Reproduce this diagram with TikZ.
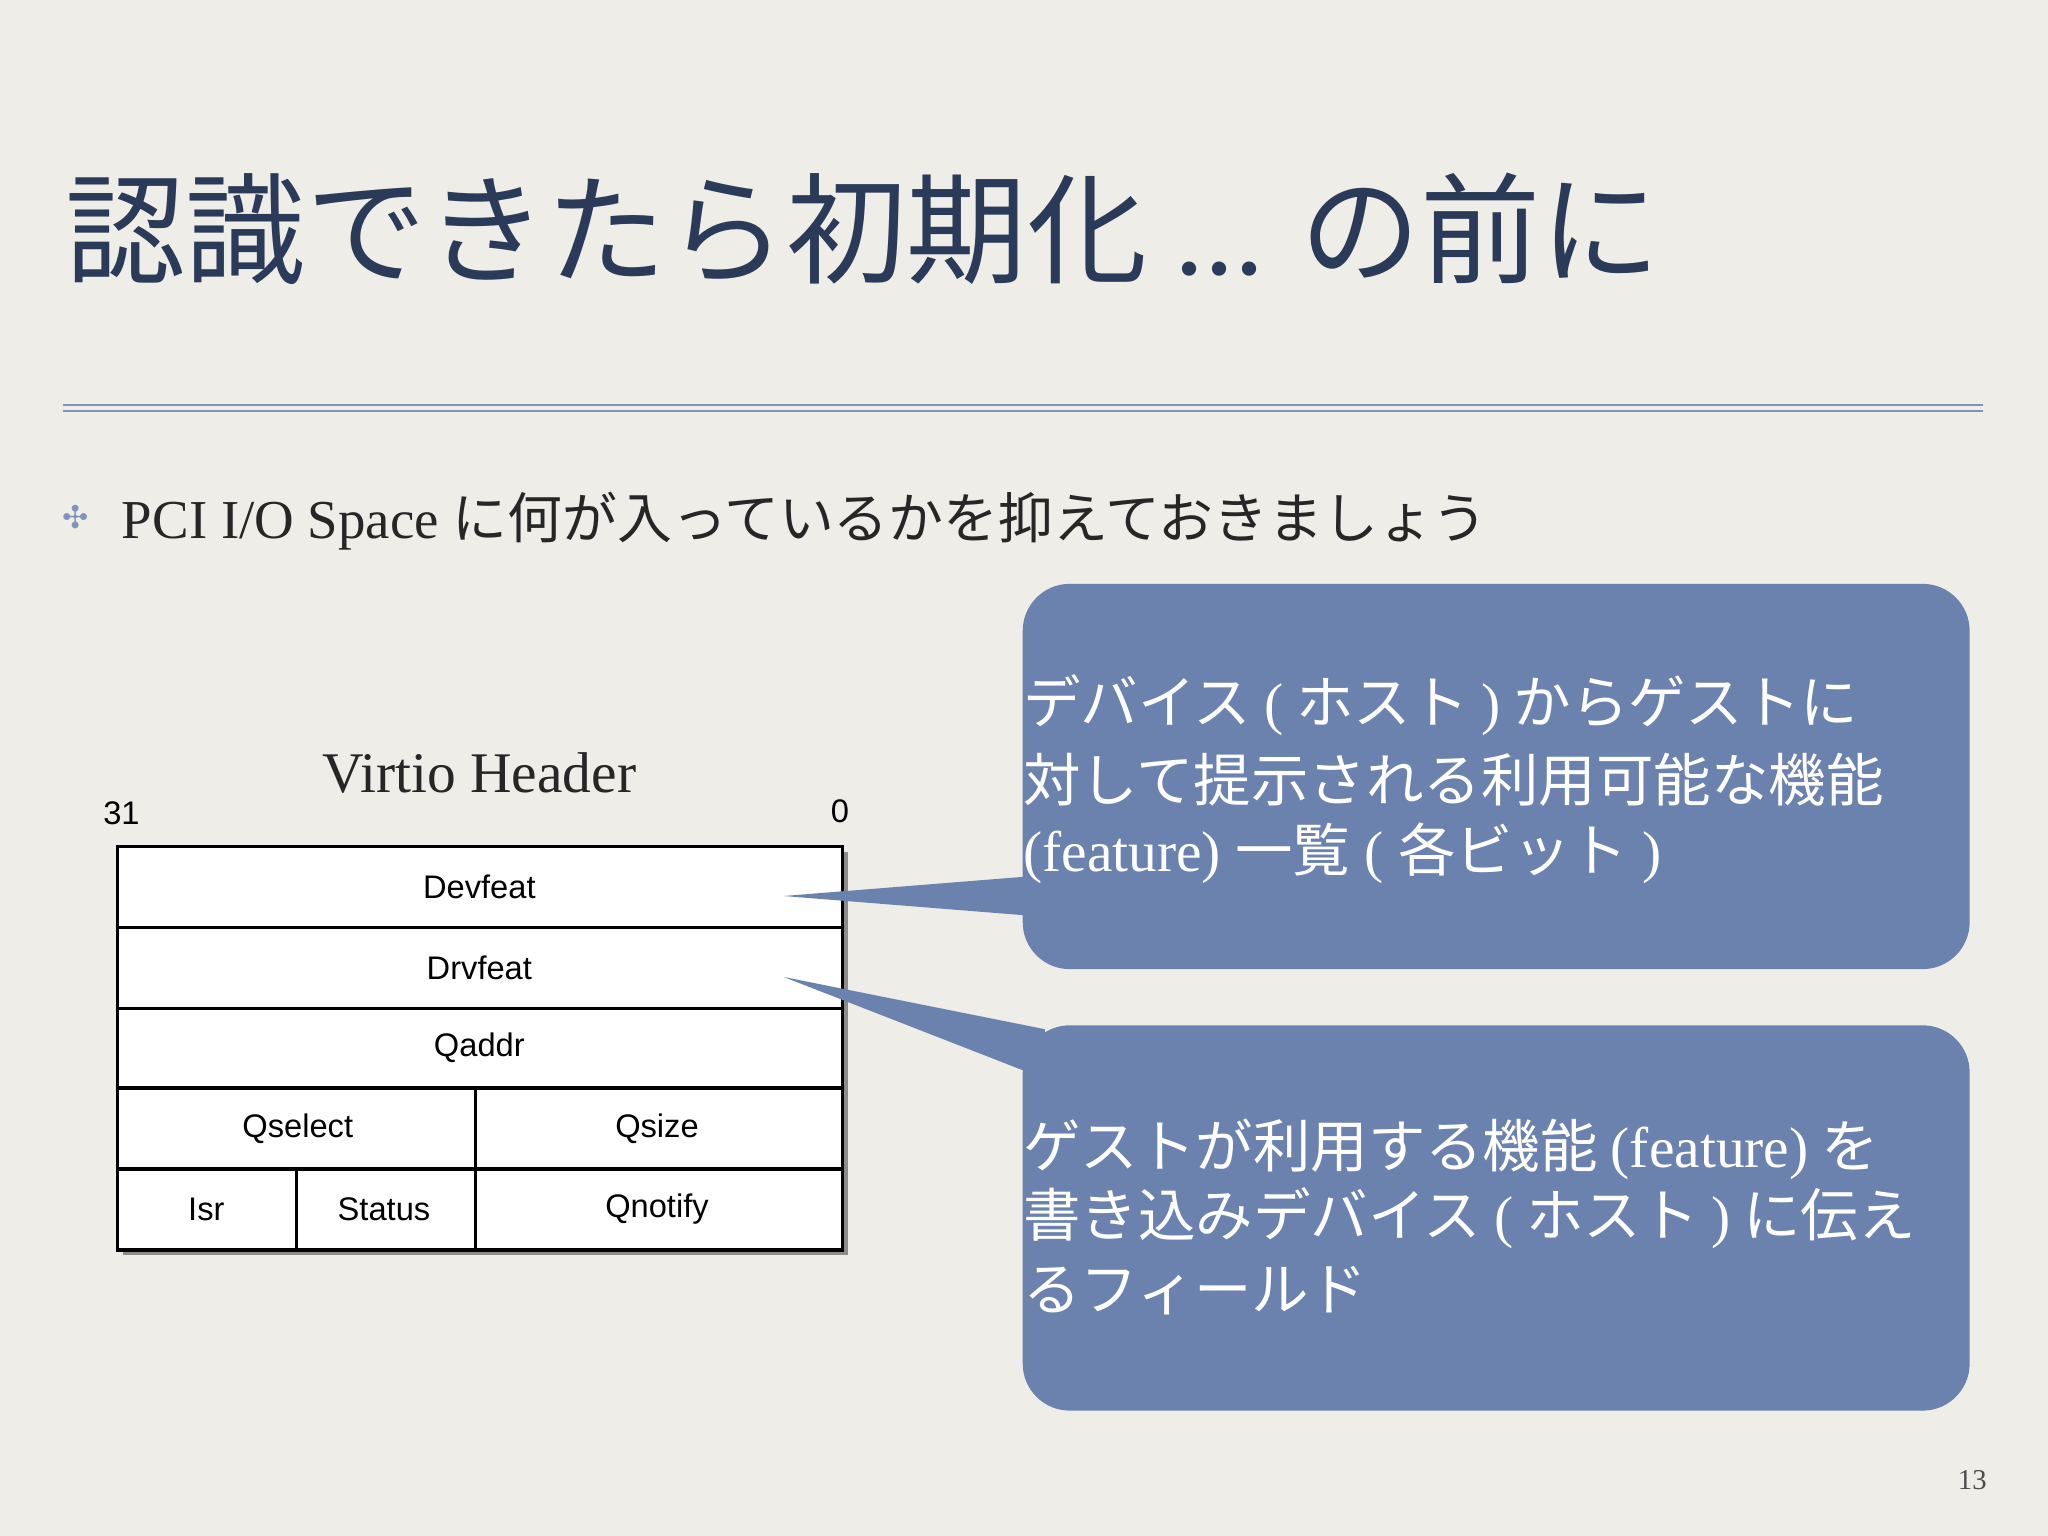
\documentclass[tikz,border=0pt]{standalone}
\usepackage{fontspec}
\setmainfont{Liberation Serif}
\newfontfamily\jp{Noto Sans CJK JP}
\newfontfamily\hv{Liberation Sans}
\newfontfamily\djv{DejaVu Sans}
\begin{document}
\begin{tikzpicture}[x=0.5pt,y=-0.5pt,
  cell/.style={font=\hv\fontsize{12.5}{14}\selectfont,text=black},
  callout/.style={fill=boxblue,draw=none,rounded corners=18pt},
  ctext/.style={anchor=west,text=white,font=\fontsize{22}{26}\selectfont,inner sep=0pt}]
\definecolor{bg}{HTML}{EFEDE8}
\definecolor{navy}{HTML}{2A3A58}
\definecolor{rule}{HTML}{8193BA}
\definecolor{boxblue}{HTML}{6A82AD}
\fill[bg] (0,0) rectangle (1568,1176);
\useasboundingbox (0,0) rectangle (1568,1176);
% title
\node[anchor=base west,inner sep=0pt,text=navy,font=\jp\fontsize{46}{50}\selectfont] (title) at (50,210) {認識できたら初期化 {\rmfamily ...} の前に};
\draw[rule,line width=0.8pt] (48,310) -- (1518,310);
\draw[rule,line width=0.8pt] (48,315) -- (1518,315);
% bullet
\node[text=rule,font=\djv\fontsize{12}{14}\selectfont,inner sep=0pt] (bul) at (58,396) {✣};
\node[anchor=base west,inner sep=0pt,text=black!85,font=\fontsize{21}{24}\selectfont] (btext) at (93,412) {PCI I/O Space {\jp に何が入っているかを抑えておきましょう}};
% header
\node[font=\fontsize{22}{26}\selectfont,text=black!85] (vh) at (367,592) {Virtio Header};
\node[cell] (b31) at (93,623) {31};
\node[cell] (b0) at (643,621) {0};
% table
\fill[black!45] (94,652) rectangle (649,961);
\draw[fill=white,line width=1.3pt] (90,648) rectangle (645,957);
\foreach \y in {710,772,833,895} \draw[line width=1.3pt] (90,\y) -- (645,\y);
\draw[line width=1.3pt] (364,833) -- (364,957);
\draw[line width=1.3pt] (227,895) -- (227,957);
\node[cell] (devfeat) at (367,679) {Devfeat};
\node[cell] (drvfeat) at (367,741) {Drvfeat};
\node[cell] (qaddr) at (367,802) {Qaddr};
\node[cell] (qsel) at (228,864) {Qselect};
\node[cell] (qsize) at (503,864) {Qsize};
\node[cell] (isr) at (158,926) {Isr};
\node[cell] (status) at (294,926) {Status};
\node[cell] (qnot) at (503,926) {Qnotify};
% callouts
\coordinate (p1) at (600,686);
\coordinate (p2) at (600,748);
\fill[boxblue] (p1) -- (800,670) -- (800,702) -- cycle;
\fill[boxblue] (p2) -- (800,788) -- (800,826) -- cycle;
\fill[callout] (783,447) rectangle (1508,742);
\fill[callout] (783,785) rectangle (1508,1080);
\node[ctext] (c1a) at (783,540) {\jp デバイス {\rmfamily (} ホスト {\rmfamily )} からゲストに};
\node[ctext] (c1b) at (783,597) {\jp 対して提示される利用可能な機能};
\node[ctext] (c1c) at (783,653) {(feature) {\jp 一覧} ( {\jp 各ビット} )};
\node[ctext] (c2a) at (783,880) {\jp ゲストが利用する機能 {\rmfamily (feature)} を};
\node[ctext] (c2b) at (783,933) {\jp 書き込みデバイス {\rmfamily (} ホスト {\rmfamily )} に伝え};
\node[ctext] (c2c) at (783,988) {\jp るフィールド};
\node[font=\fontsize{11}{13}\selectfont,text=black!70] (pg) at (1510,1133) {13};
\end{tikzpicture}
\end{document}
